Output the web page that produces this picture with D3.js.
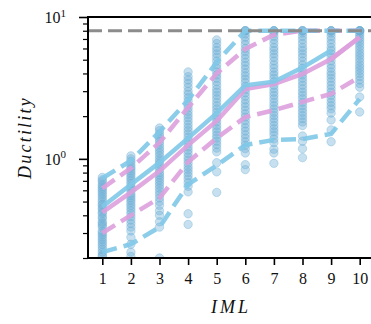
<!DOCTYPE html>
<html><head><meta charset="utf-8">
<script src="https://cdn.jsdelivr.net/npm/d3@7"></script>
<style>body{margin:0;background:#fff}svg{display:block}</style>
</head><body>
<svg id="chart" width="371" height="324"></svg>
<script>
// ---- data ----
const iml = [1, 2, 3, 4, 5, 6, 7, 8, 9, 10];
const xTickLabels = ["1", "2", "3", "4", "5", "6", "7", "8", "9", "10"];
const yMajorTicks = [1, 10];
const yMajorExponents = ["0", "1"];
const yMinorTicks = [0.2, 0.3, 0.4, 0.5, 0.6, 0.7, 0.8, 0.9, 2, 3, 4, 5, 6, 7, 8, 9];
const collapseLimit = 8;

const pts1 = [0.74, 0.71, 0.69, 0.66, 0.64, 0.62, 0.60, 0.58, 0.56, 0.54, 0.52, 0.50, 0.48, 0.47, 0.45, 0.44, 0.42, 0.41, 0.39, 0.38, 0.36, 0.35, 0.34, 0.33, 0.31, 0.30, 0.29, 0.28, 0.27, 0.26, 0.25, 0.24, 0.23, 0.22, 0.21, 0.205];
const pts2 = [1.05, 1.0, 0.96, 0.92, 0.88, 0.85, 0.82, 0.79, 0.76, 0.73, 0.70, 0.67, 0.64, 0.62, 0.60, 0.57, 0.55, 0.53, 0.51, 0.49, 0.47, 0.45, 0.43, 0.41, 0.39, 0.37, 0.35, 0.33, 0.31, 0.28, 0.25, 0.22, 0.205];
const pts3 = [1.65, 1.58, 1.5, 1.44, 1.38, 1.32, 1.26, 1.2, 1.15, 1.1, 1.05, 1.0, 0.96, 0.92, 0.88, 0.84, 0.8, 0.77, 0.74, 0.71, 0.68, 0.65, 0.62, 0.59, 0.56, 0.53, 0.5, 0.47, 0.43, 0.40, 0.36, 0.33, 0.2];
const pts4 = [4.1, 3.8, 3.6, 3.4, 3.2, 3.0, 2.85, 2.7, 2.55, 2.4, 2.28, 2.16, 2.05, 1.95, 1.85, 1.75, 1.66, 1.58, 1.5, 1.42, 1.35, 1.28, 1.21, 1.15, 1.09, 1.03, 0.98, 0.93, 0.88, 0.84, 0.8, 0.76, 0.72, 0.68, 0.64, 0.585, 0.41, 0.345];
const pts5 = [6.9, 6.5, 6.1, 5.8, 5.5, 5.2, 4.9, 4.6, 4.35, 4.1, 3.9, 3.7, 3.5, 3.3, 3.1, 2.95, 2.8, 2.65, 2.5, 2.37, 2.25, 2.13, 2.02, 1.92, 1.82, 1.72, 1.63, 1.55, 1.47, 1.4, 1.33, 1.26, 1.19, 1.12, 0.94, 0.81, 0.58];
const pts6 = [8, 8, 8, 7.6, 7.2, 6.8, 6.4, 6.0, 5.7, 5.4, 5.1, 4.8, 4.55, 4.3, 4.05, 3.85, 3.65, 3.45, 3.25, 3.08, 2.92, 2.76, 2.6, 2.46, 2.33, 2.2, 2.08, 1.97, 1.86, 1.76, 1.66, 1.57, 1.48, 1.4, 1.32, 1.25, 1.18, 1.1, 0.91, 0.84];
const pts7 = [8, 8, 8, 7.7, 7.3, 6.9, 6.5, 6.1, 5.8, 5.5, 5.2, 4.9, 4.6, 4.35, 4.1, 3.9, 3.7, 3.5, 3.3, 3.12, 2.95, 2.8, 2.65, 2.5, 2.37, 2.25, 2.13, 2.02, 1.92, 1.82, 1.72, 1.63, 1.55, 1.47, 1.38, 1.3, 1.17, 1.1, 0.93];
const pts8 = [8, 8, 8, 7.7, 7.3, 6.9, 6.5, 6.1, 5.8, 5.5, 5.2, 4.9, 4.6, 4.35, 4.1, 3.9, 3.7, 3.5, 3.3, 3.12, 2.95, 2.8, 2.65, 2.5, 2.37, 2.25, 2.13, 2.02, 1.92, 1.82, 1.72, 1.45, 1.33, 1.18, 1.02];
const pts9 = [8, 8, 8, 7.7, 7.3, 6.9, 6.5, 6.1, 5.8, 5.5, 5.2, 4.9, 4.6, 4.35, 4.1, 3.9, 3.7, 3.5, 3.3, 3.12, 2.95, 2.8, 2.65, 2.5, 2.37, 2.25, 2.1, 1.88, 1.6, 1.32];
const pts10 = [8, 8, 8, 8, 7.7, 7.4, 7.1, 6.8, 6.5, 6.2, 5.9, 5.6, 5.35, 5.1, 4.85, 4.6, 4.4, 4.2, 4.0, 3.8, 3.6, 3.4, 3.2, 2.73, 2.14];

const blueMedian = [0.46, 0.66, 0.94, 1.4, 2.1, 3.3, 3.5, 4.4, 5.8, null];
const blueLow = [0.22, 0.25, 0.33, 0.66, 0.9, 1.25, 1.36, 1.38, 1.5, 2.64];
const blueHigh = [0.73, 0.97, 1.55, 2.6, 4.8, 8, 8, 8, 8, 8];
const pinkMedian = [0.42, 0.58, 0.82, 1.25, 1.85, 3.1, 3.37, 3.97, 5.05, 7.2];
const pinkLow = [0.30, 0.40, 0.53, 0.95, 1.4, 1.97, 2.2, 2.52, 2.87, 3.78];
const pinkHigh = [0.62, 0.86, 1.3, 2.3, 4.0, 5.95, 7.5, 8, 8, 8];

// ---- layout ----
const L = 88, R = 374, T = 17, B = 258;
const svg = d3.select("#chart");
const x = d3.scaleLinear().domain([0.5, 10.5]).range([L, R]);
const y = d3.scaleLog().domain([0.2, 10]).range([B, T]);
const serif = "'Liberation Serif', 'DejaVu Serif', serif";

svg.append("defs").append("clipPath").attr("id", "clip")
  .append("rect").attr("x", L).attr("y", T).attr("width", R - L).attr("height", B - T);

const plot = svg.append("g").attr("clip-path", "url(#clip)");

const allPts = [pts1, pts2, pts3, pts4, pts5, pts6, pts7, pts8, pts9, pts10];
const scatterData = [];
allPts.forEach((arr, i) => arr.forEach(v => scatterData.push({ x: iml[i], v })));

plot.append("g").selectAll("circle").data(scatterData).join("circle")
  .attr("cx", d => x(d.x)).attr("cy", d => y(d.v)).attr("r", 4.2)
  .attr("fill", "#6baed6").attr("fill-opacity", 0.38)
  .attr("stroke", "#6baed6").attr("stroke-opacity", 0.38).attr("stroke-width", 1);

const line = d3.line().defined(d => d.v != null).x(d => x(d.x)).y(d => y(d.v));
function drawLine(vals, color, dashed) {
  plot.append("path")
    .datum(vals.map((v, i) => ({ x: iml[i], v })))
    .attr("d", line).attr("fill", "none")
    .attr("stroke", color).attr("stroke-opacity", 0.9)
    .attr("stroke-width", 4.5)
    .attr("stroke-dasharray", dashed ? "15,7" : null);
}
const pink = "#dda0dd", blue = "#80c8e8";
drawLine(pinkLow, pink, true);
drawLine(pinkHigh, pink, true);
drawLine(pinkMedian, pink, false);
drawLine(blueLow, blue, true);
drawLine(blueHigh, blue, true);
drawLine(blueMedian, blue, false);
plot.append("path")
  .datum(pinkMedian.slice(8).map((v, i) => ({ x: iml[i + 8], v })))
  .attr("d", line).attr("fill", "none").attr("stroke", pink).attr("stroke-opacity", 0.9).attr("stroke-width", 4.5);

// collapse limit
plot.append("line")
  .attr("x1", L).attr("x2", R).attr("y1", y(collapseLimit)).attr("y2", y(collapseLimit))
  .attr("stroke", "#8c8c8c").attr("stroke-width", 3).attr("stroke-dasharray", "14,6");

// ---- axes ----
const xAxis = svg.append("g").attr("transform", `translate(0,${B})`)
  .call(d3.axisBottom(x).tickValues(iml).tickSize(7).tickPadding(8).tickFormat((d, i) => xTickLabels[i]));
xAxis.select(".domain").remove();
xAxis.selectAll("line").attr("stroke", "#000").attr("stroke-width", 1.6);
xAxis.selectAll("text").attr("font-family", serif).attr("font-size", 16).attr("fill", "#111");

const yMinor = svg.append("g").attr("transform", `translate(${L},0)`)
  .call(d3.axisLeft(y).tickValues(yMinorTicks).tickSize(5).tickFormat(""));
yMinor.select(".domain").remove();
yMinor.selectAll("line").attr("stroke", "#000").attr("stroke-width", 1.2);

const yMajor = svg.append("g").attr("transform", `translate(${L},0)`)
  .call(d3.axisLeft(y).tickValues(yMajorTicks).tickSize(9).tickPadding(14).tickFormat(""));
yMajor.select(".domain").remove();
yMajor.selectAll("line").attr("stroke", "#000").attr("stroke-width", 1.6);
yMajor.selectAll(".tick").each(function (d, i) {
  const t = d3.select(this).select("text")
    .attr("font-family", serif).attr("font-size", 16).attr("fill", "#111")
    .attr("dy", "0.35em").attr("x", -22);
  t.append("tspan").text("10");
  t.append("tspan").attr("font-size", 11).attr("dy", "-0.6em").text(yMajorExponents[i]);
});

// spines
const sp = svg.append("g").attr("stroke", "#000").attr("stroke-width", 2);
sp.append("line").attr("x1", L).attr("x2", L).attr("y1", T).attr("y2", B);
sp.append("line").attr("x1", L - 1).attr("x2", R).attr("y1", B).attr("y2", B);
sp.append("line").attr("x1", L - 1).attr("x2", R).attr("y1", T).attr("y2", T);
sp.append("line").attr("x1", R).attr("x2", R).attr("y1", T).attr("y2", B);

// axis labels
svg.append("text").attr("x", (L + R) / 2).attr("y", 313).attr("text-anchor", "middle")
  .attr("font-family", serif).attr("font-style", "italic").attr("font-size", 18)
  .attr("letter-spacing", "3px").attr("fill", "#111").text("IML");
svg.append("text").attr("transform", `translate(31,${(T + B) / 2}) rotate(-90)`)
  .attr("text-anchor", "middle")
  .attr("font-family", serif).attr("font-style", "italic").attr("font-size", 18)
  .attr("letter-spacing", "2.2px").attr("fill", "#111").text("Ductility");
</script>
</body></html>
